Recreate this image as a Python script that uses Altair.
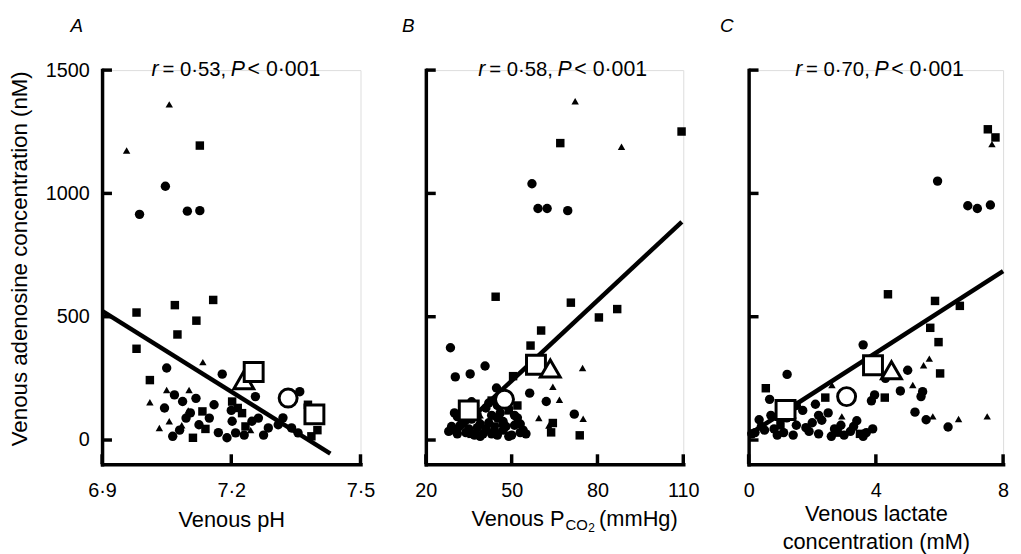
import altair as alt
import pandas as pd

FONT = "Liberation Sans"
H = 398
Y_DOMAIN = [-98, 1500]
Y_TICKS = [0, 500, 1000, 1500]
TICK_PX = 10

# ---------------- Panel A: venous pH ----------------
ph_x = [6.987, 7.047, 7.098, 7.127, 7.05, 7.179, 7.068, 7.087, 7.118, 7.16, 7.256, 7.359,
        7.064, 7.095, 7.125, 7.149, 7.19, 7.202, 7.248, 7.21, 7.263, 7.286, 7.309, 7.34, 7.355,
        7.08, 7.23, 7.32, 7.17, 7.105, 7.20, 7.275, 7.045,
        7.127, 7.158, 7.069, 6.98, 7.119, 7.075, 6.98, 7.011, 7.202, 7.111, 7.133, 7.225, 7.233,
        7.386, 7.378, 7.215, 7.40, 7.14,
        7.056, 6.957, 7.134, 7.05, 7.102, 7.011, 7.033, 7.056, 7.10, 7.245, 7.085]
ph_y = [915, 1029, 928, 930, 292, 267, 183, 156, 169, 143, 176, 196,
        15, 89, 62, 89, 9, 76, 76, 29, 89, 49, 62, 49, 29,
        40, 20, 90, 30, 110, 120, 20, 130,
        1194, 568, 547, 517, 484, 428, 370, 243, 156, 9, 116, 109, 55,
        15, 143, 130, 40, 45,
        1361, 1174, 316, 203, 203, 153, 49, 76, 120, 40, 60]
ph_kind = ["c"] * 33 + ["s"] * 18 + ["t"] * 11
ph_mean_x = [7.229, 7.252, 7.332, 7.393]
ph_mean_y = [243, 276, 170, 104]
ph_mean_kind = ["t", "s", "c", "s"]
ph_line_x = [6.9, 7.43]
ph_line_y = [524, -55]

# ---------------- Panel B: venous PCO2 ----------------
co2_x = [57.1, 59.2, 62.4, 69.6, 28.6, 40.7, 35.5, 30.3, 56.3, 62.1, 71.9, 44.7,
         30, 32, 34, 36, 38, 40, 42, 44, 46, 48, 50, 52, 54, 33, 37, 41, 45, 47, 51, 53, 28, 31, 39, 43,
         29, 31, 33, 35, 37, 39, 41, 43, 45, 47, 49, 51, 53, 55, 34, 42, 48, 36, 30, 45,
         109.4, 67.0, 44.4, 70.7, 80.5, 86.9, 60.3, 56.6, 50.5, 64.4, 63.8, 73.8,
         34, 38, 43, 49, 44, 36, 52,
         72.2, 88.4, 74.8, 64.4, 66.7, 59.5, 75, 63, 39, 46]
co2_y = [1039, 939, 939, 930, 374, 300, 268, 256, 190, 156, 105, 211,
         40, 60, 30, 85, 50, 25, 70, 35, 110, 55, 20, 90, 40, 120, 140, 130, 20, 75, 60, 30, 35, 95, 15, 100,
         55, 25, 75, 45, 20, 65, 45, 25, 90, 40, 15, 100, 65, 25, 105, 150, 170, 155, 110, 140,
         1251, 1204, 581, 557, 497, 531, 444, 383, 259, 69, 31, 19,
         130, 95, 160, 120, 55, 25, 140,
         1374, 1189, 292, 216, 163, 89, 86, 59, 100, 65]
co2_kind = ["c"] * 56 + ["s"] * 19 + ["t"] * 10
co2_mean_x = [35, 47.5, 58.5, 63.5]
co2_mean_y = [120, 165, 305, 290]
co2_mean_kind = ["s", "c", "s", "t"]
co2_line_x = [30, 109.5]
co2_line_y = [24, 885]

# ---------------- Panel C: venous lactate ----------------
lac_x = [5.94, 6.89, 7.19, 7.60, 3.6, 1.21, 5.0, 5.47, 5.42, 4.77, 3.86, 3.96, 5.23, 5.58, 6.27,
         2.1, 0.66, 3.4, 0.33, 4.3,
         0.5, 0.9, 1.5, 1.9, 2.3, 2.7, 3.0, 3.3, 1.2, 2.5, 3.7, 0.2, 1.7, 2.0,
         0.1, 0.4, 0.8, 1.1, 1.4, 1.8, 2.2, 2.6, 2.9, 3.2, 3.6, 3.9, 1.5, 2.2, 0.7,
         7.52, 7.76, 4.38, 5.86, 6.64, 5.71, 5.97, 6.02, 4.28, 0.54, 2.41, 3.5, 2.8, 1.0,
         7.65, 5.68, 5.5, 5.16, 5.79, 6.6, 7.5, 2.62, 2.93, 1.4]
lac_y = [1050, 950, 939, 953, 386, 266, 283, 196, 176, 199, 159, 183, 113, 82, 53,
         145, 165, 78, 82, 250,
         40, 20, 60, 35, 80, 45, 20, 55, 90, 110, 30, 30, 120, 70,
         25, 55, 45, 30, 20, 50, 25, 15, 60, 35, 15, 45, 140, 100, 100,
         1260, 1227, 591, 564, 544, 455, 397, 270, 172, 210, 172, 25, 30, 60,
         1200, 330, 303, 223, 96, 85, 96, 223, 96, 100]
lac_kind = ["c"] * 49 + ["s"] * 14 + ["t"] * 10
lac_mean_x = [1.16, 3.08, 3.91, 4.49]
lac_mean_y = [122, 176, 303, 283]
lac_mean_kind = ["s", "c", "s", "t"]
lac_line_x = [0, 8.0]
lac_line_y = [22, 685]

SHAPE = alt.Scale(domain=["c", "s", "t"], range=["circle", "square", "triangle-up"])
SIZE_SMALL = alt.Scale(domain=["c", "s", "t"], range=[90, 56, 85])
SIZE_BIG = alt.Scale(domain=["c", "s", "t"], range=[330, 400, 500])


def panel(xs, ys, kinds, mx, my, mk, lx, ly, xdom, xticks, xfmt, width,
          ylabels, ytitle, xtitle, xtitle_pad, letter, letter_x, stats_r, stats_p, stats_x):
    yopts = dict(values=Y_TICKS, labels=ylabels, ticks=False, format="d",
                 domainWidth=3.5, domainColor="black", domainCap="square",
                 labelFontSize=20, labelFont=FONT, labelColor="black",
                 labelPadding=13, grid=False, labelOverlap=False)
    if ytitle:
        yopts.update(title=ytitle, titleFont=FONT, titleFontSize=22.5,
                     titleFontWeight="normal", titleColor="black",
                     titleX=-83, titleY=190, titleAngle=-90, titleAlign="center",
                     titleBaseline="middle")
    else:
        yopts.update(title=None)
    yaxis = alt.Axis(**yopts)
    xopts = dict(values=xticks, format=xfmt,
                 labelExpr="replace(datum.label, '.', '·')",
                 ticks=False, domainWidth=3.5, domainColor="black",
                 domainCap="square", labelFontSize=20, labelFont=FONT,
                 labelColor="black", labelPadding=17, labelFlush=False,
                 labelOverlap=False, grid=False)
    if xtitle:
        xopts.update(title=xtitle, titleFont=FONT, titleFontSize=22,
                     titleFontWeight="normal", titleColor="black",
                     titlePadding=xtitle_pad, titleLineHeight=28)
    else:
        xopts.update(title=None)
    xaxis = alt.Axis(**xopts)
    xs_ = alt.Scale(domain=xdom, nice=False, zero=False)
    ys_ = alt.Scale(domain=Y_DOMAIN, nice=False, zero=False)

    pts = pd.DataFrame({"x": xs, "y": ys, "k": kinds})
    means = pd.DataFrame({"x": mx, "y": my, "k": mk})
    line = pd.DataFrame({"x": lx, "y": ly})
    # inward axis ticks: short segments starting at the axis line
    xspan = (xdom[1] - xdom[0]) * TICK_PX / width
    yspan = (Y_DOMAIN[1] - Y_DOMAIN[0]) * TICK_PX / H
    yt = pd.DataFrame({"ty": Y_TICKS, "tx": [xdom[0]] * len(Y_TICKS),
                       "txe": [xdom[0] + xspan] * len(Y_TICKS)})
    xt = pd.DataFrame({"tx": xticks, "ty": [Y_DOMAIN[0]] * len(xticks),
                       "tye": [Y_DOMAIN[0] + yspan] * len(xticks)})
    one = pd.DataFrame({"a": [0]})

    def X(f):
        return alt.X(f, type="quantitative", scale=xs_, axis=xaxis)

    def Y(f):
        return alt.Y(f, type="quantitative", scale=ys_, axis=yaxis)

    l_line = alt.Chart(line).mark_line(color="black", strokeWidth=4.5).encode(
        x=X("x"), y=Y("y"))
    l_pts = alt.Chart(pts).mark_point(filled=True, color="black", opacity=1).encode(
        x=X("x"), y=Y("y"),
        shape=alt.Shape("k:N", scale=SHAPE, legend=None),
        size=alt.Size("k:N", scale=SIZE_SMALL, legend=None))
    l_means = alt.Chart(means).mark_point(filled=True, fill="white", stroke="black",
                                          strokeWidth=3, opacity=1).encode(
        x=X("x"), y=Y("y"),
        shape=alt.Shape("km:N", scale=SHAPE, legend=None),
        size=alt.Size("km:N", scale=SIZE_BIG, legend=None)).transform_calculate(
        km="datum.k")
    l_yt = alt.Chart(yt).mark_rule(color="black", strokeWidth=3.5).encode(
        x=X("tx"), x2="txe:Q", y=Y("ty"))
    l_xt = alt.Chart(xt).mark_rule(color="black", strokeWidth=3.5).encode(
        x=X("tx"), y=Y("ty"), y2="tye:Q")

    txt = dict(font=FONT, color="black", align="left", baseline="alphabetic")
    l_r = alt.Chart(one).mark_text(fontStyle="italic", fontSize=21.5, **txt).encode(
        x=alt.value(stats_x), y=alt.value(6), text=alt.value("r"))
    l_r2 = alt.Chart(one).mark_text(fontSize=20.5, **txt).encode(
        x=alt.value(stats_x + 11), y=alt.value(6), text=alt.value("= " + stats_r + ","))
    l_p = alt.Chart(one).mark_text(fontStyle="italic", fontSize=21.5, **txt).encode(
        x=alt.value(stats_x + 80), y=alt.value(6), text=alt.value("P"))
    l_p2 = alt.Chart(one).mark_text(fontSize=21.5, **txt).encode(
        x=alt.value(stats_x + 97), y=alt.value(6), text=alt.value("< " + stats_p))
    l_letter = alt.Chart(one).mark_text(fontStyle="italic", fontSize=19, **txt).encode(
        x=alt.value(letter_x), y=alt.value(-38), text=alt.value(letter))

    return alt.layer(l_line, l_pts, l_means, l_r, l_r2, l_p, l_p2, l_letter,
                     l_yt, l_xt).resolve_scale(size="independent").properties(
        width=width, height=H)


pA = panel(ph_x, ph_y, ph_kind, ph_mean_x, ph_mean_y, ph_mean_kind, ph_line_x, ph_line_y,
           [6.9, 7.5], [6.9, 7.2, 7.5], ".1f", 261, True,
           "Venous adenosine concentration (nM)", "Venous pH", 9, "A", -32,
           "0·53", "0·001", 50)
pB = panel(co2_x, co2_y, co2_kind, co2_mean_x, co2_mean_y, co2_mean_kind, co2_line_x,
           co2_line_y, [20, 110], [20, 50, 80, 110], "d", 260, False, None, None, 0, "B",
           -24, "0·58", "0·001", 53)
pC = panel(lac_x, lac_y, lac_kind, lac_mean_x, lac_mean_y, lac_mean_kind, lac_line_x,
           lac_line_y, [0, 8], [0, 4, 8], "d", 257, False, None,
           ["Venous lactate", "concentration (mM)"], 3, "C", -29, "0·70", "0·001", 47)

# custom x title for panel B (with subscript)
one = pd.DataFrame({"a": [0]})
sub = [("Venous P", 22, 46, 460), ("CO", 15, 141, 464), ("2", 12, 164, 466),
       ("(mmHg)", 22, 175, 460)]
title_layers = [alt.Chart(one).mark_text(font=FONT, fontSize=s, color="black",
                                         align="left", baseline="alphabetic").encode(
    x=alt.value(xp), y=alt.value(yp), text=alt.value(t)) for t, s, xp, yp in sub]
pB = alt.layer(pB, *title_layers)

chart = alt.hconcat(pA, pB, pC, spacing=66, bounds="flush").properties(
    padding={"left": 0, "top": 6, "right": 0, "bottom": 0}
).configure_view(stroke=None).configure(font=FONT)

chart.save("out.html", embed_options={"renderer": "svg", "actions": False})
